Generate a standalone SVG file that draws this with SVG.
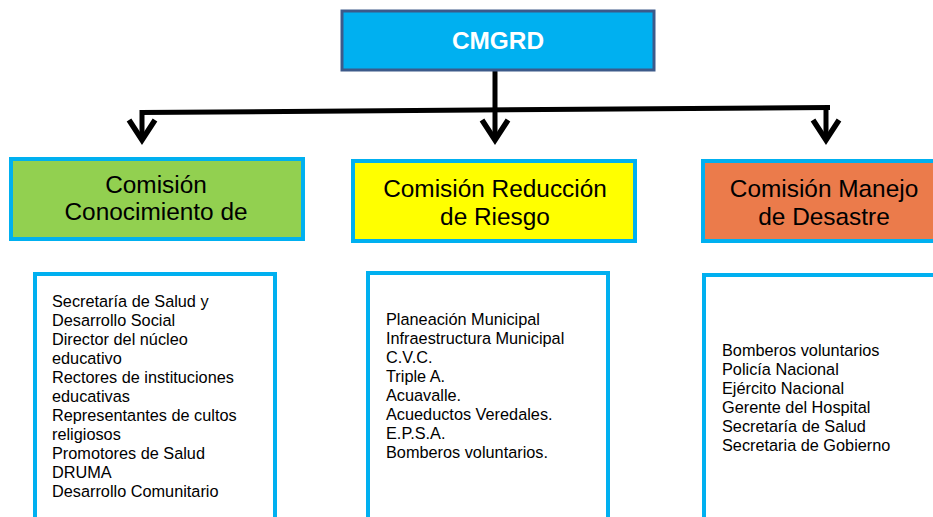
<svg xmlns="http://www.w3.org/2000/svg" width="933" height="517" viewBox="0 0 933 517">
<style>
.box{stroke:#00b0f0;stroke-width:4}
.h{font-family:"Liberation Sans",Arial,sans-serif;font-size:24.4px;fill:#000;text-anchor:middle}
.t{font-family:"Liberation Sans",Arial,sans-serif;font-size:16.3px;fill:#000}
.c{fill:none;stroke:#000;stroke-width:5}
</style>
<defs>
<marker id="arr" markerUnits="userSpaceOnUse" markerWidth="30" markerHeight="30" viewBox="0 0 30 30" refX="25" refY="15" orient="auto" overflow="visible">
<path d="M5,2 L25,15 L5,28" fill="none" stroke="#000" stroke-width="5.5" stroke-linejoin="miter"/>
</marker>
</defs>
<rect width="933" height="517" fill="#fff"/>
<g id="connectors">
<path class="c" d="M495,70 L495,140" marker-end="url(#arr)"/>
<path class="c" d="M140,112.5 L830,107.5"/>
<path class="c" d="M142,110 L142,140" marker-end="url(#arr)"/>
<path class="c" d="M826,108 L826,140" marker-end="url(#arr)"/>
</g>
<g id="cmgrd">
<rect x="342" y="11" width="312" height="59" fill="#00b0f0" stroke="#3c5a8a" stroke-width="3"/>
<text x="498" y="49" class="h" style="font-weight:bold;fill:#fff">CMGRD</text>
</g>
<g id="com-conocimiento">
<rect class="box" x="11" y="159" width="292" height="80" fill="#92d050"/>
<text class="h" x="156" y="193">Comisión</text>
<text class="h" x="156" y="220">Conocimiento de</text>
</g>
<g id="com-reduccion">
<rect class="box" x="353" y="161" width="282" height="80" fill="#ffff00"/>
<text class="h" x="495" y="197">Comisión Reducción</text>
<text class="h" x="495" y="225">de Riesgo</text>
</g>
<g id="com-manejo">
<rect class="box" x="703" y="161" width="240" height="80" fill="#eb7b4b"/>
<text class="h" x="824" y="197">Comisión Manejo</text>
<text class="h" x="824" y="225">de Desastre</text>
</g>
<g id="list-conocimiento">
<rect class="box" x="35" y="274" width="240" height="260" fill="#fff"/>
<text class="t" x="52" y="307">Secretaría de Salud y</text>
<text class="t" x="52" y="326">Desarrollo Social</text>
<text class="t" x="52" y="345">Director del núcleo</text>
<text class="t" x="52" y="364">educativo</text>
<text class="t" x="52" y="383">Rectores de instituciones</text>
<text class="t" x="52" y="402">educativas</text>
<text class="t" x="52" y="421">Representantes de cultos</text>
<text class="t" x="52" y="440">religiosos</text>
<text class="t" x="52" y="459">Promotores de Salud</text>
<text class="t" x="52" y="478">DRUMA</text>
<text class="t" x="52" y="497">Desarrollo Comunitario</text>
</g>
<g id="list-reduccion">
<rect class="box" x="368" y="273" width="240" height="260" fill="#fff"/>
<text class="t" x="386" y="325">Planeación Municipal</text>
<text class="t" x="386" y="344">Infraestructura Municipal</text>
<text class="t" x="386" y="363">C.V.C.</text>
<text class="t" x="386" y="382">Triple A.</text>
<text class="t" x="386" y="401">Acuavalle.</text>
<text class="t" x="386" y="420">Acueductos Veredales.</text>
<text class="t" x="386" y="439">E.P.S.A.</text>
<text class="t" x="386" y="458">Bomberos voluntarios.</text>
</g>
<g id="list-manejo">
<rect class="box" x="704" y="275" width="240" height="260" fill="#fff"/>
<text class="t" x="722" y="356">Bomberos voluntarios</text>
<text class="t" x="722" y="375">Policía Nacional</text>
<text class="t" x="722" y="394">Ejército Nacional</text>
<text class="t" x="722" y="413">Gerente del Hospital</text>
<text class="t" x="722" y="432">Secretaría de Salud</text>
<text class="t" x="722" y="451">Secretaria de Gobierno</text>
</g>
</svg>
